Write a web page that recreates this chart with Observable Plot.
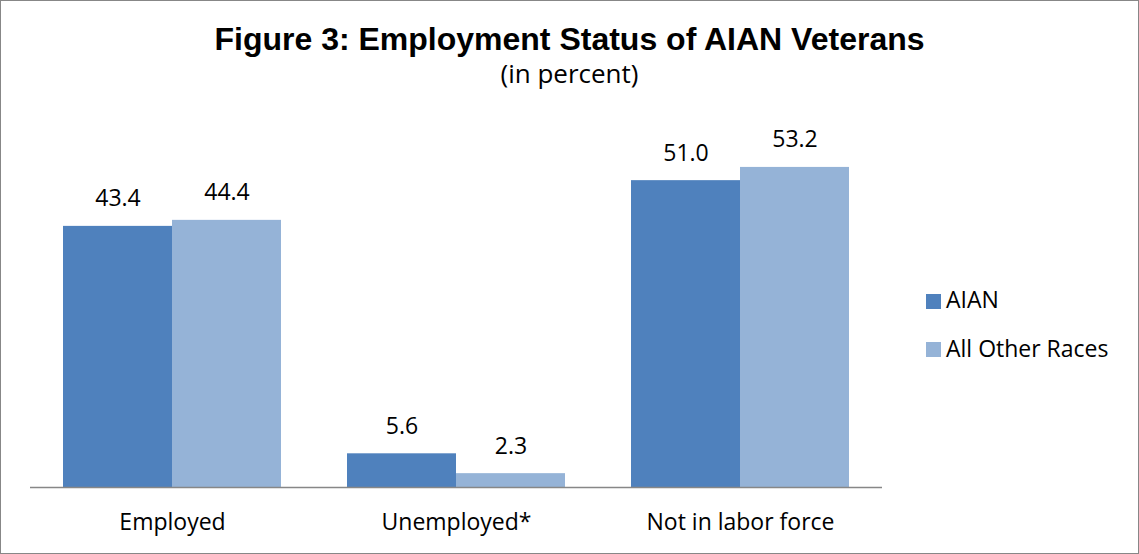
<!DOCTYPE html>
<html><head><meta charset="utf-8">
<script src="https://cdn.jsdelivr.net/npm/d3@7"></script>
<script src="https://cdn.jsdelivr.net/npm/@observablehq/plot@0.6"></script>
<style>
body{margin:0;background:#fff;}
#fig{position:relative;width:1139px;height:554px;box-sizing:border-box;border:1px solid #878787;background:#fff;font-family:"Open Sans",sans-serif;overflow:hidden;}
#head{position:relative;height:99px;}
#title{position:absolute;left:0;right:0;top:21.9px;text-align:center;font-family:"Liberation Sans",Arial,sans-serif;font-weight:bold;font-size:32px;line-height:32px;color:#000;}
#sub{position:absolute;left:0;right:0;top:58.9px;text-align:center;font-family:"Open Sans",sans-serif;font-size:26px;line-height:26px;color:#000;}
.leg{position:absolute;font-size:23px;line-height:23px;color:#000;white-space:nowrap;}
.sw{position:absolute;width:15px;height:15px;}
#chart svg{display:block;}
</style></head>
<body>
<div id="fig">
  <div id="head">
    <div id="title">Figure 3: Employment Status of AIAN Veterans</div>
    <div id="sub">(in percent)</div>
  </div>
  <div id="chart"></div>
  <div id="legend"></div>
</div>
<script>
const categories = ["Employed", "Unemployed*", "Not in labor force"];
const series = ["AIAN", "All Other Races"];
const aian = [43.4, 5.6, 51.0];
const other = [44.4, 2.3, 53.2];
const colors = ["#4F81BD", "#95B3D7"];

const data = categories.flatMap((c, i) => [
  {category: c, series: series[0], value: aian[i]},
  {category: c, series: series[1], value: other[i]}
]);

const chart = Plot.plot({
  width: 1137, height: 453,
  marginLeft: 29, marginRight: 256, marginTop: 26, marginBottom: 66,
  style: {fontFamily: "'Open Sans', sans-serif", fontSize: "23px", background: "transparent", color: "#000", overflow: "visible"},
  fx: {domain: categories, padding: 0, label: null, axis: "bottom", tickSize: 0, tickPadding: 26},
  x: {domain: series, paddingInner: 0, paddingOuter: 0.297, axis: null},
  y: {domain: [0, 60], axis: null},
  color: {domain: series, range: colors},
  marks: [
    Plot.barY(data, {fx: "category", x: "series", y: "value", fill: "series"}),
    Plot.ruleY([0], {stroke: "#878787", strokeWidth: 1.5}),
    Plot.text(data, {fx: "category", x: "series", y: "value", text: d => d.value.toFixed(1), lineAnchor: "bottom", dy: -20, fill: "#000", fontSize: 23})
  ]
});
document.getElementById("chart").appendChild(chart);

const legend = document.getElementById("legend");
const legTops = [286.6, 335.6];
const swTops = [293, 341];
series.forEach((s, i) => {
  const sw = document.createElement("div");
  sw.className = "sw";
  sw.style.left = "925px";
  sw.style.top = swTops[i] + "px";
  sw.style.background = colors[i];
  legend.appendChild(sw);
  const t = document.createElement("div");
  t.className = "leg";
  t.style.left = "945px";
  t.style.top = legTops[i] + "px";
  t.textContent = s;
  legend.appendChild(t);
});
</script>
</body></html>
